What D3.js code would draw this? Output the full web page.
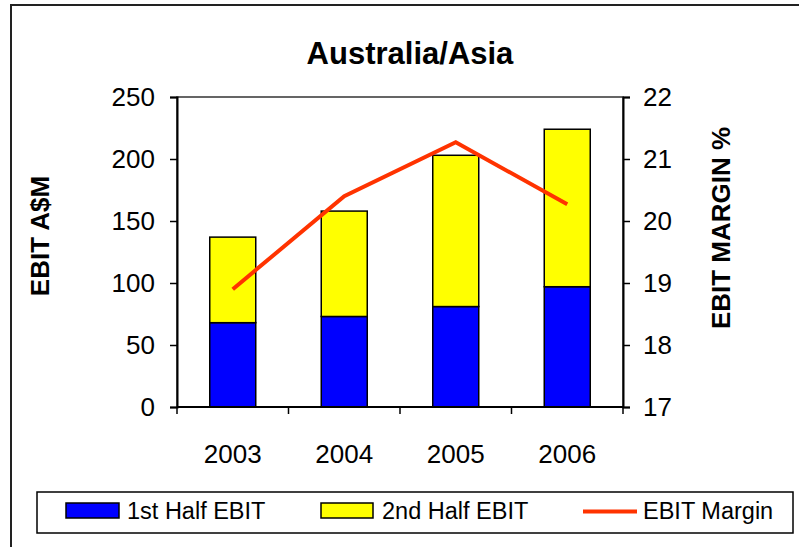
<!DOCTYPE html>
<html><head><meta charset="utf-8">
<script src="https://cdn.jsdelivr.net/npm/d3@7"></script>
<style>body{margin:0;background:#fff}svg{display:block;font-family:Arial,"Liberation Sans",sans-serif}</style>
</head><body>
<svg id="c" width="799" height="547"></svg>
<script>
const years = ["2003","2004","2005","2006"];
const firstHalf = [68, 73, 81, 97];
const secondHalf = [69, 85, 122, 127];
const margin = [18.9, 20.4, 21.27, 20.27];
const leftTicks = [0, 50, 100, 150, 200, 250];
const rightTicks = [17, 18, 19, 20, 21, 22];
const seriesNames = ["1st Half EBIT", "2nd Half EBIT", "EBIT Margin"];
const colors = {first: "#0000FF", second: "#FFFF00", line: "#FF3300"};

const svg = d3.select("#c");
const P = {l: 177, r: 623, t: 97, b: 407};

// outer frame
svg.append("rect").attr("x", 11).attr("y", 5).attr("width", 800).attr("height", 560)
  .attr("fill", "#fff").attr("stroke", "#222").attr("stroke-width", 2);

// title
svg.append("text").attr("x", 410).attr("y", 64).attr("text-anchor", "middle")
  .attr("font-size", 31).attr("font-weight", "bold").text("Australia/Asia");

const x = d3.scaleBand().domain(years).range([P.l, P.r]).paddingInner(0.6).paddingOuter(0.3);
const xb = d3.scaleBand().domain(years).range([P.l, P.r]);
const yL = d3.scaleLinear().domain([0, 250]).range([P.b, P.t]);
const yR = d3.scaleLinear().domain([17, 22]).range([P.b, P.t]);

// plot area frame
svg.append("rect").attr("x", P.l).attr("y", P.t).attr("width", P.r - P.l).attr("height", P.b - P.t)
  .attr("fill", "none").attr("stroke", "#333").attr("stroke-width", 1.5);

// bars
const bw = 46;
const g = svg.append("g");
years.forEach((yr, i) => {
  const cx = xb(yr) + xb.bandwidth() / 2;
  g.append("rect").attr("x", cx - bw / 2).attr("width", bw)
    .attr("y", yL(firstHalf[i])).attr("height", yL(0) - yL(firstHalf[i]))
    .attr("fill", colors.first).attr("stroke", "#000").attr("stroke-width", 1.5);
  g.append("rect").attr("x", cx - bw / 2).attr("width", bw)
    .attr("y", yL(firstHalf[i] + secondHalf[i])).attr("height", yL(firstHalf[i]) - yL(firstHalf[i] + secondHalf[i]))
    .attr("fill", colors.second).attr("stroke", "#000").attr("stroke-width", 1.5);
});

// line
const line = d3.line().x((d, i) => xb(years[i]) + xb.bandwidth() / 2).y(d => yR(d));
svg.append("path").datum(margin).attr("d", line).attr("fill", "none")
  .attr("stroke", colors.line).attr("stroke-width", 4).attr("stroke-linejoin", "miter");

// axes
const axL = svg.append("g").attr("transform", `translate(${P.l},0)`)
  .call(d3.axisLeft(yL).tickValues(leftTicks).tickSize(7).tickPadding(15).tickFormat(d3.format("d")));
const axR = svg.append("g").attr("transform", `translate(${P.r},0)`)
  .call(d3.axisRight(yR).tickValues(rightTicks).tickSize(7).tickPadding(13).tickFormat(d3.format("d")));
const axB = svg.append("g").attr("transform", `translate(0,${P.b})`)
  .call(d3.axisBottom(xb).tickSize(0).tickPadding(38));
// category boundary ticks
svg.append("g").selectAll("line").data(years.concat(["end"])).join("line")
  .attr("x1", (d, i) => i < years.length ? xb(d) : P.r).attr("x2", (d, i) => i < years.length ? xb(d) : P.r)
  .attr("y1", P.b).attr("y2", P.b + 7).attr("stroke", "#000").attr("stroke-width", 1.5);

[axL, axR, axB].forEach(a => {
  a.selectAll(".domain").attr("stroke", "#000").attr("stroke-width", 2);
  a.selectAll(".tick line").attr("stroke", "#000").attr("stroke-width", 1.5);
  a.selectAll("text").attr("font-size", 26).attr("font-family", "Arial, 'Liberation Sans', sans-serif").attr("fill", "#000");
});
axB.select(".domain").remove();
svg.append("line").attr("x1", P.l).attr("x2", P.r).attr("y1", P.b).attr("y2", P.b).attr("stroke", "#000").attr("stroke-width", 2);

// axis titles
svg.append("text").attr("transform", "translate(49,236) rotate(-90)").attr("text-anchor", "middle")
  .attr("font-size", 26).attr("font-weight", "bold").text("EBIT A$M");
svg.append("text").attr("transform", "translate(730,228) rotate(-90)").attr("text-anchor", "middle")
  .attr("font-size", 26).attr("font-weight", "bold").text("EBIT MARGIN %");

// legend
const lg = svg.append("g");
lg.append("rect").attr("x", 37).attr("y", 492).attr("width", 756).attr("height", 41)
  .attr("fill", "#fff").attr("stroke", "#000").attr("stroke-width", 1.5);
lg.append("rect").attr("x", 66).attr("y", 503).attr("width", 53).attr("height", 15)
  .attr("fill", colors.first).attr("stroke", "#000").attr("stroke-width", 1.5);
lg.append("text").attr("x", 127).attr("y", 518.5).attr("font-size", 23.5).text(seriesNames[0]);
lg.append("rect").attr("x", 321).attr("y", 503).attr("width", 52).attr("height", 15)
  .attr("fill", colors.second).attr("stroke", "#000").attr("stroke-width", 1.5);
lg.append("text").attr("x", 382).attr("y", 518.5).attr("font-size", 23.5).text(seriesNames[1]);
lg.append("line").attr("x1", 583).attr("x2", 637).attr("y1", 511.5).attr("y2", 511.5)
  .attr("stroke", colors.line).attr("stroke-width", 4);
lg.append("text").attr("x", 643).attr("y", 518.5).attr("font-size", 23.5).text(seriesNames[2]);
</script>
</body></html>
